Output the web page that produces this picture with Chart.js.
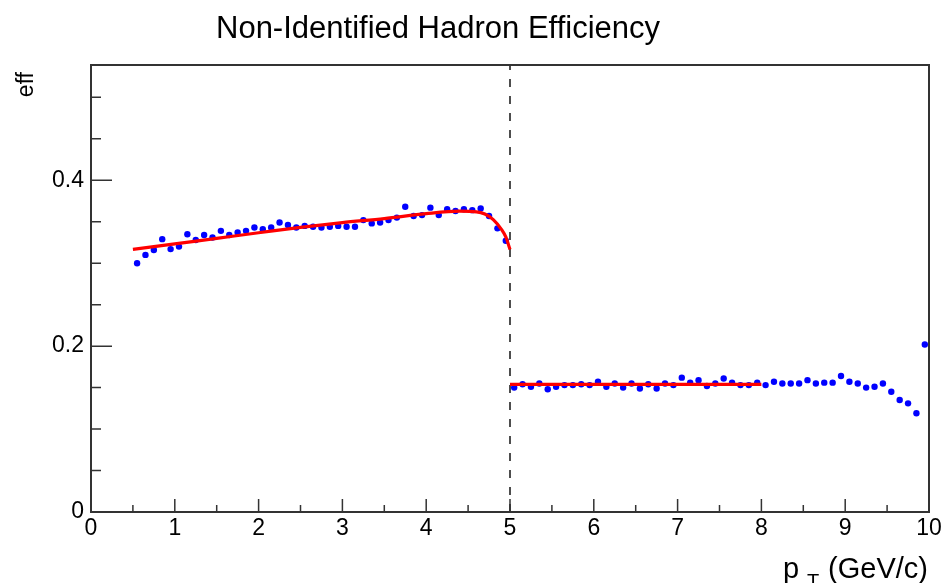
<!DOCTYPE html>
<html>
<head>
<meta charset="utf-8">
<script src="https://cdn.jsdelivr.net/npm/chart.js@4/dist/chart.umd.min.js"></script>
<style>
  html, body { margin: 0; padding: 0; background: #fff; }
  canvas { display: block; }
</style>
</head>
<body>
<canvas id="c" width="943" height="583"></canvas>
<script>
// Efficiency vs transverse momentum, 0.1 GeV/c bins
const ptLow = [0.55,0.65,0.75,0.85,0.95,1.05,1.15,1.25,1.35,1.45,1.55,1.65,1.75,1.85,1.95,
  2.05,2.15,2.25,2.35,2.45,2.55,2.65,2.75,2.85,2.95,3.05,3.15,3.25,3.35,3.45,3.55,3.65,3.75,3.85,3.95,
  4.05,4.15,4.25,4.35,4.45,4.55,4.65,4.75,4.85,4.95];
const effLow = [0.300,0.310,0.316,0.329,0.317,0.320,0.335,0.328,0.334,0.331,0.339,0.334,0.337,0.339,0.343,
  0.341,0.343,0.349,0.346,0.343,0.345,0.344,0.343,0.344,0.345,0.344,0.344,0.352,0.348,0.349,0.352,0.355,0.368,0.357,0.358,
  0.367,0.358,0.365,0.363,0.365,0.364,0.366,0.357,0.342,0.327];

const ptHigh = [5.05,5.15,5.25,5.35,5.45,5.55,5.65,5.75,5.85,5.95,6.05,6.15,6.25,6.35,6.45,6.55,6.65,6.75,6.85,6.95,
  7.05,7.15,7.25,7.35,7.45,7.55,7.65,7.75,7.85,7.95,8.05,8.15,8.25,8.35,8.45,8.55,8.65,8.75,8.85,8.95,
  9.05,9.15,9.25,9.35,9.45,9.55,9.65,9.75,9.85,9.95];
const effHigh = [0.150,0.154,0.151,0.155,0.148,0.151,0.153,0.153,0.154,0.153,0.157,0.151,0.155,0.150,0.155,0.149,0.154,0.149,0.155,0.153,
  0.162,0.156,0.159,0.152,0.155,0.161,0.156,0.153,0.153,0.156,0.153,0.157,0.155,0.155,0.155,0.159,0.155,0.156,0.156,0.164,
  0.157,0.155,0.150,0.151,0.155,0.145,0.135,0.131,0.119,0.202];

// Fit curves
const fitLowPt = [0.5, 1.0, 1.5, 2.0, 2.5, 3.0, 3.5, 4.0, 4.4, 4.6, 4.7, 4.8, 4.9, 4.95, 5.0];
const fitLowEff = [0.3166, 0.3233, 0.3300, 0.3367, 0.3433, 0.3490, 0.3538, 0.3598, 0.3627, 0.3620, 0.3593, 0.3526, 0.3406, 0.3317, 0.3165];
const fitHighPt = [5.0, 8.0];
const fitHighEff = [0.154, 0.154];

// Axis ticks
const xMajorTicks = [0,1,2,3,4,5,6,7,8,9,10];
const xMinorTicks = [0.5,1.5,2.5,3.5,4.5,5.5,6.5,7.5,8.5,9.5];
const yMajorTicks = [0, 0.2, 0.4];
const yMinorTicks = [0.05,0.1,0.15,0.25,0.3,0.35,0.45,0.5];
const xRange = [0, 10];
const yRange = [0, 0.539];
const splitPt = 5;

const FONT = "'Liberation Sans', Arial, Helvetica, sans-serif";

const pts = (xs, ys) => xs.map((x, i) => ({ x: x, y: ys[i] }));

const framePlugin = {
  id: 'framePlugin',
  beforeDatasetsDraw(chart) {
    const { ctx, chartArea: a, scales: { x } } = chart;
    const px = x.getPixelForValue(splitPt);
    ctx.save();
    ctx.strokeStyle = '#222';
    ctx.lineWidth = 1.6;
    ctx.setLineDash([8, 9]);
    ctx.beginPath();
    ctx.moveTo(px, a.bottom);
    ctx.lineTo(px, a.top);
    ctx.stroke();
    ctx.restore();
  },
  afterDraw(chart) {
    const { ctx, chartArea: a, scales: { x, y } } = chart;
    ctx.save();
    ctx.strokeStyle = '#333';
    ctx.lineWidth = 2;
    ctx.strokeRect(a.left, a.top, a.right - a.left, a.bottom - a.top);
    ctx.lineWidth = 1.5;
    ctx.beginPath();
    xMajorTicks.forEach(v => { const p = x.getPixelForValue(v); ctx.moveTo(p, a.bottom); ctx.lineTo(p, a.bottom - 13); });
    xMinorTicks.forEach(v => { const p = x.getPixelForValue(v); ctx.moveTo(p, a.bottom); ctx.lineTo(p, a.bottom - 7); });
    yMajorTicks.forEach(v => { const p = y.getPixelForValue(v); ctx.moveTo(a.left, p); ctx.lineTo(a.left + 21, p); });
    yMinorTicks.forEach(v => { const p = y.getPixelForValue(v); ctx.moveTo(a.left, p); ctx.lineTo(a.left + 10, p); });
    ctx.stroke();

    ctx.fillStyle = '#000';
    // title
    ctx.font = '31px ' + FONT;
    ctx.textAlign = 'center';
    ctx.textBaseline = 'alphabetic';
    ctx.fillText('Non-Identified Hadron Efficiency', 438, 38);

    // x axis title p_T (GeV/c)
    ctx.font = '29px ' + FONT;
    ctx.textAlign = 'right';
    ctx.fillText('(GeV/c)', 928, 578);
    ctx.textAlign = 'left';
    ctx.fillText('p', 783, 578);
    ctx.font = '20px ' + FONT;
    ctx.fillText('T', 807, 588);

    // y axis title
    ctx.translate(33, 72);
    ctx.rotate(-Math.PI / 2);
    ctx.font = '23px ' + FONT;
    ctx.textAlign = 'right';
    ctx.fillText('eff', 0, 0);
    ctx.restore();
  }
};

new Chart(document.getElementById('c'), {
  type: 'scatter',
  data: {
    datasets: [
      { data: pts(fitLowPt, fitLowEff), type: 'line', showLine: true, borderColor: '#ff0000', borderWidth: 3.2,
        pointRadius: 0, cubicInterpolationMode: 'monotone', fill: false, order: 0 },
      { data: pts(fitHighPt, fitHighEff), type: 'line', showLine: true, borderColor: '#ff0000', borderWidth: 3.2,
        pointRadius: 0, fill: false, order: 0 },
      { data: pts(ptLow, effLow), backgroundColor: '#0000ff', borderWidth: 0, pointRadius: 3.2, order: 1 },
      { data: pts(ptHigh, effHigh), backgroundColor: '#0000ff', borderWidth: 0, pointRadius: 3.2, order: 1 }
    ]
  },
  options: {
    responsive: false,
    animation: false,
    events: [],
    layout: { padding: { left: 0, top: 65, right: 14, bottom: 0 } },
    plugins: { legend: { display: false }, title: { display: false }, tooltip: { enabled: false } },
    scales: {
      x: {
        type: 'linear', min: xRange[0], max: xRange[1],
        grid: { display: false, drawTicks: false },
        border: { display: false },
        afterFit(s) { s.height = 71; s.paddingLeft = 0; s.paddingRight = 0; },
        afterBuildTicks(s) { s.ticks = xMajorTicks.map(v => ({ value: v })); },
        ticks: { color: '#000', padding: 3, maxRotation: 0, autoSkip: false,
          font: { family: FONT, size: 23 } }
      },
      y: {
        type: 'linear', min: yRange[0], max: yRange[1],
        grid: { display: false, drawTicks: false },
        border: { display: false },
        afterFit(s) { s.width = 91; s.paddingTop = 0; s.paddingBottom = 0; },
        afterBuildTicks(s) { s.ticks = yMajorTicks.map(v => ({ value: v })); },
        ticks: { color: '#000', padding: 7, autoSkip: false,
          font: { family: FONT, size: 23 } }
      }
    }
  },
  plugins: [framePlugin]
});
</script>
</body>
</html>
